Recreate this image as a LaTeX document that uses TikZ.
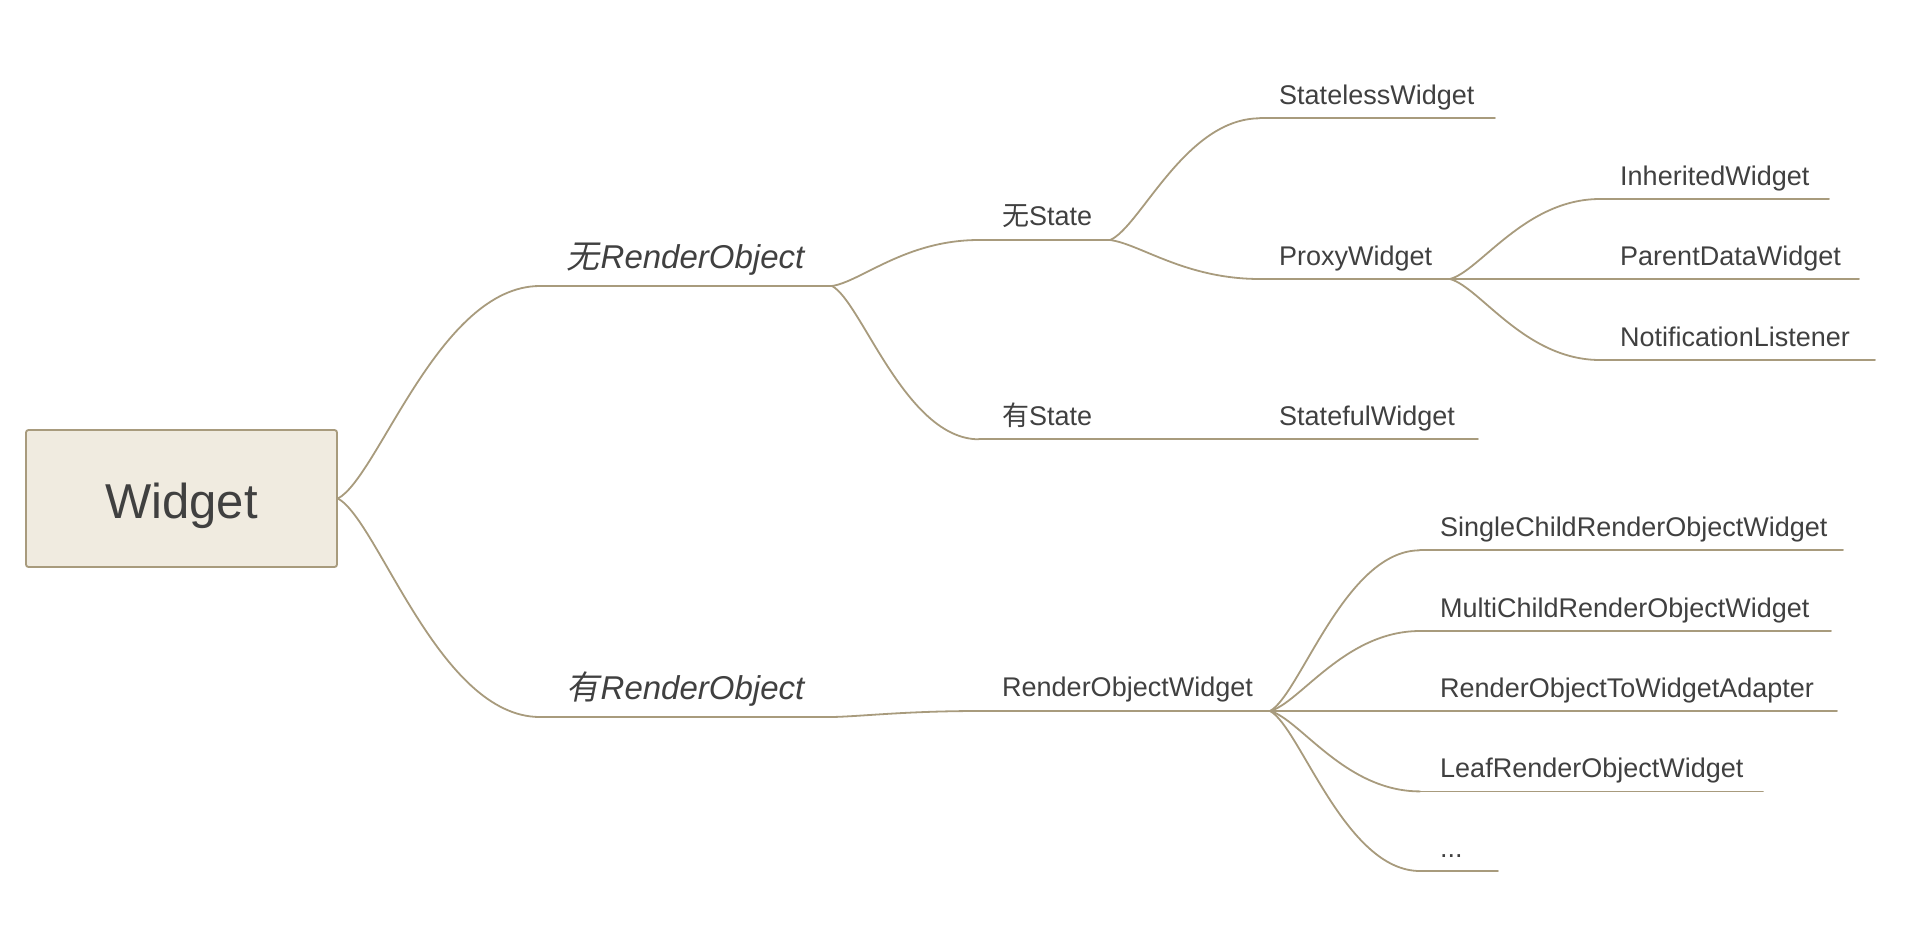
\documentclass[tikz,border=0pt]{standalone}
\usepackage{fontspec}
\setmainfont{Liberation Sans}
\newfontfamily\cjk{Noto Sans CJK SC}
\newfontfamily\cjkit[FakeSlant=0.2]{Noto Sans CJK SC}
\usetikzlibrary{calc}
\definecolor{linec}{HTML}{A89B7D}
\definecolor{boxfill}{HTML}{F0EBE0}
\definecolor{txt}{HTML}{404040}
\tikzset{
  branch/.style={draw=linec, line width=1.8pt, line cap=round},
  topic/.style={anchor=base west, inner sep=0pt, text=txt, font=\fontsize{27pt}{30pt}\selectfont},
  major/.style={anchor=base west, inner sep=0pt, text=txt, font=\fontsize{33pt}{38pt}\selectfont\itshape},
  curve/.style={to path={let \p1=(\tikztostart), \p2=(\tikztotarget) in
      .. controls ({\x1+0.2*(\x2-\x1)},{\y1+0.1*(\y2-\y1)}) and ({\x2-0.5*(\x2-\x1)},\y2) .. (\tikztotarget)}},
  rootbox/.style={draw=linec, fill=boxfill, line width=1.8pt, rounded corners=2.5pt,
      minimum width=311pt, minimum height=137pt, text height=42pt, text depth=2.4pt,
      text=txt, font=\fontsize{49pt}{56pt}\selectfont},
}
\begin{document}
\begin{tikzpicture}[x=1pt,y=-1pt]
\useasboundingbox (0,0) rectangle (1918,932);

% root
\node[rootbox] (root) at (181.5,498.5) {Widget};

% level 1
\coordinate (nrA) at (540,286);   \coordinate (nrB) at (832,286);
\coordinate (yrA) at (540,717);   \coordinate (yrB) at (832,717);
\node[major] (nrT) at (566,268.3) {{\cjkit 无}\kern1.5pt RenderObject};
\node[major] (yrT) at (566,699.6) {{\cjkit 有}\kern1.5pt RenderObject};

% level 2
\coordinate (nsA) at (979,240);    \coordinate (nsB) at (1110,240);
\coordinate (ysA) at (979,439.3);  \coordinate (ysB) at (1110,439.3);
\coordinate (rowA) at (979,711);   \coordinate (rowB) at (1270,711);
\node[topic] (nsT) at (1002,225.5) {{\cjk 无}State};
\node[topic] (ysT) at (1002,425.5) {{\cjk 有}State};
\node[topic] (rowT) at (1002,696.5) {RenderObjectWidget};

% level 3
\coordinate (slA) at (1260,118.3); \coordinate (slB) at (1495,118.3);
\coordinate (pxA) at (1260,279);   \coordinate (pxB) at (1450,279);
\coordinate (sfA) at (1130,439.3); \coordinate (sfB) at (1478,439.3);
\coordinate (scA) at (1420,550.3); \coordinate (scB) at (1843,550.3);
\coordinate (mcA) at (1420,631);   \coordinate (mcB) at (1831,631);
\coordinate (adA) at (1420,711);   \coordinate (adB) at (1837,711);
\coordinate (lfA) at (1420,791.4); \coordinate (lfB) at (1763,791.4);
\coordinate (dtA) at (1420,871);   \coordinate (dtB) at (1498,871);
\node[topic] (slT) at (1279,104.3) {StatelessWidget};
\node[topic] (pxT) at (1279,265) {ProxyWidget};
\node[topic] (sfT) at (1279,425.5) {StatefulWidget};
\node[topic] (scT) at (1440,536.3) {SingleChildRenderObjectWidget};
\node[topic] (mcT) at (1440,617) {MultiChildRenderObjectWidget};
\node[topic] (adT) at (1440,697) {RenderObjectToWidgetAdapter};
\node[topic] (lfT) at (1440,777.4) {LeafRenderObjectWidget};
\node[topic] (dtT) at (1440,857) {...};

% level 4
\coordinate (ihA) at (1600,199);   \coordinate (ihB) at (1829,199);
\coordinate (pdA) at (1600,279);   \coordinate (pdB) at (1859,279);
\coordinate (nlA) at (1600,360);   \coordinate (nlB) at (1875,360);
\node[topic] (ihT) at (1620,185) {InheritedWidget};
\node[topic] (pdT) at (1620,265) {ParentDataWidget};
\node[topic] (nlT) at (1620,346) {NotificationListener};

% underlines
\foreach \n in {nr,yr,ns,ys,row,sl,px,sf,sc,mc,ad,lf,dt,ih,pd,nl}
  \draw[branch] (\n A) -- (\n B);

% connectors
\draw[branch] (root.east) to[curve] (nrA);
\draw[branch] (root.east) to[curve] (yrA);
\draw[branch] (nrB) to[curve] (nsA);
\draw[branch] (nrB) to[curve] (ysA);
\draw[branch] (yrB) to[curve] (rowA);
\draw[branch] (nsB) to[curve] (slA);
\draw[branch] (nsB) to[curve] (pxA);
\draw[branch] (ysB) -- (sfA);
\draw[branch] (pxB) to[curve] (ihA);
\draw[branch] (pxB) to[curve] (pdA);
\draw[branch] (pxB) to[curve] (nlA);
\draw[branch] (rowB) to[curve] (scA);
\draw[branch] (rowB) to[curve] (mcA);
\draw[branch] (rowB) to[curve] (adA);
\draw[branch] (rowB) to[curve] (lfA);
\draw[branch] (rowB) to[curve] (dtA);
\end{tikzpicture}
\end{document}
